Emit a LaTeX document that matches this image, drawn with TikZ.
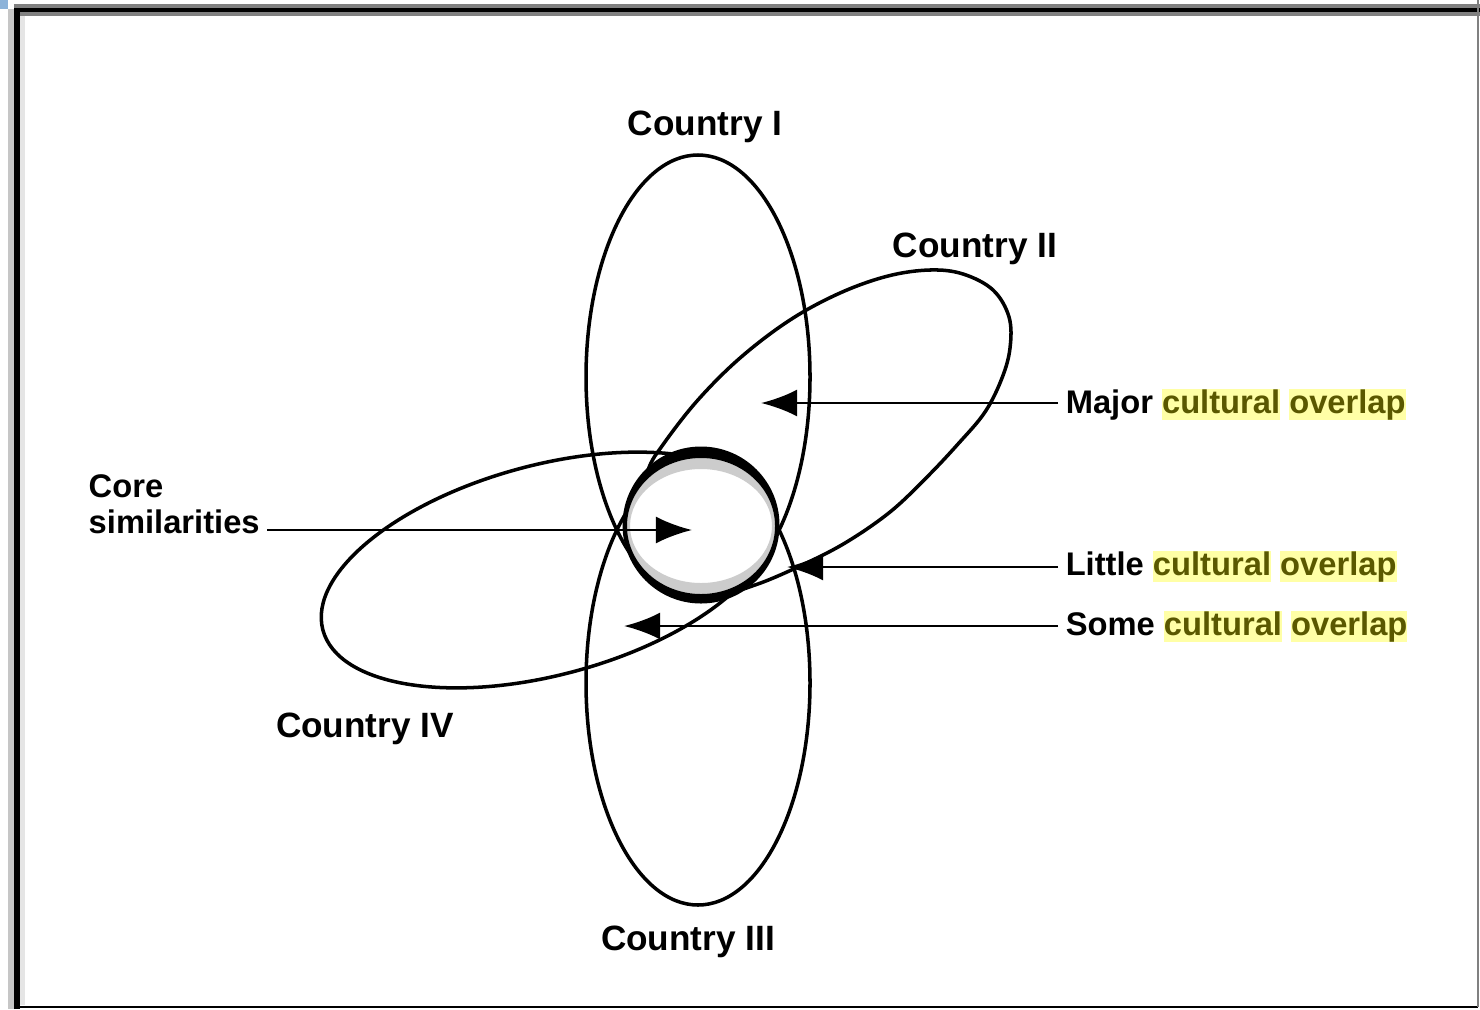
\documentclass[tikz,border=0pt]{standalone}
\usepackage{fontspec}
\setmainfont{Liberation Sans}
\usetikzlibrary{arrows.meta,calc}
\definecolor{hlyellow}{HTML}{FFFFA6}
\definecolor{hltext}{HTML}{5A5800}
\definecolor{framegray}{HTML}{808080}
\definecolor{cornerblue}{HTML}{8DB3D9}
\newcommand{\hlword}[1]{{\setlength{\fboxsep}{0pt}\colorbox{hlyellow}{\textcolor{hltext}{\vphantom{lp}#1}}}}

\begin{document}
\begin{tikzpicture}[x=0.01cm, y=-0.01cm,
    country_line/.style={draw=black, line width=1pt},
    core_ring/.style={fill=black, even odd rule},
    core_shade/.style={fill=gray!40, even odd rule},
    country_text/.style={font=\bfseries\fontsize{10}{12}\selectfont, inner sep=2pt},
    label_text/.style={font=\bfseries\fontsize{9.3}{10.3}\selectfont, inner sep=2pt},
    pointer/.style={-{Latex[length=0.36cm, width=0.27cm]}, line width=0.8pt}
]
    \useasboundingbox (0,0) rectangle (1480,1009);
    % Frame
    \fill[cornerblue] (0,0) rectangle (8,9);
    \fill[framegray] (14,4) rectangle (1480,8);
    \fill[gray!45] (8,9) rectangle (14,1009);
    \fill[framegray] (20,12) rectangle (1480,16);
    \fill[gray!20] (20,16) rectangle (25,1005);
    \draw[line width=1.7pt] (17,1009) -- (17,8);
    \draw[line width=1.15pt] (14,10) -- (1480,10);
    \draw[line width=0.8pt] (14,1007) -- (1478,1007);
    \draw[framegray, line width=0.6pt] (1478,0) -- (1478,1007);

    % Countries
    \draw[country_line] (698,377) ellipse [x radius=112, y radius=222];
    \draw[country_line] (698,683) ellipse [x radius=112, y radius=222];
    \draw[country_line, rotate around={15:(547,570)}] (547,570) ellipse [x radius=232, y radius=105];
    \draw[country_line] plot[smooth cycle, tension=0.6] coordinates {
        (790,320) (840,293) (888,276) (930,270) (963,274) (993,290) (1009,317)
        (1010,348) (1002,378) (985,412) (958,444) (927,477) (890,512) (845,543)
        (800,566) (755,585) (715,595) (672,585) (645,552) (638,510) (648,470)
        (662,446) (697,401) (740,358)};

    % Core
    \fill[white] (701,525) circle [radius=78];
    \fill[core_shade] (701,526) ellipse [x radius=74, y radius=68] (701,526) ellipse [x radius=71, y radius=57];
    \fill[core_ring] (701,525) circle [radius=78.5] (701,526) ellipse [x radius=74, y radius=68];

    % Labels
    \node[country_text, anchor=base] (country_i) at (705,135) {Country I};
    \node[country_text, anchor=base] (country_ii) at (975,257) {Country II};
    \node[country_text, anchor=base] (country_iii) at (688,950) {Country III};
    \node[country_text, anchor=base] (country_iv) at (365,737) {Country IV};
    \node[label_text, align=left, anchor=north west] (core_label) at (81,467) {Core\\similarities};
    \node[label_text, anchor=base west] (major_label) at (1058,413) {Major \hlword{cultural} \hlword{overlap}};
    \node[label_text, anchor=base west] (little_label) at (1058,575) {Little \hlword{cultural} \hlword{overlap}};
    \node[label_text, anchor=base west] (some_label) at (1058,635) {Some \hlword{cultural} \hlword{overlap}};

    % Arrows
    \coordinate (core_tip) at (692,530);
    \coordinate (major_tip) at (761,403);
    \coordinate (little_tip) at (787,567);
    \coordinate (some_tip) at (624,626);
    \draw[pointer] (core_label.east |- core_tip) -- (core_tip);
    \draw[pointer] (major_label.west |- major_tip) -- (major_tip);
    \draw[pointer] (little_label.west |- little_tip) -- (little_tip);
    \draw[pointer] (some_label.west |- some_tip) -- (some_tip);
\end{tikzpicture}
\end{document}
